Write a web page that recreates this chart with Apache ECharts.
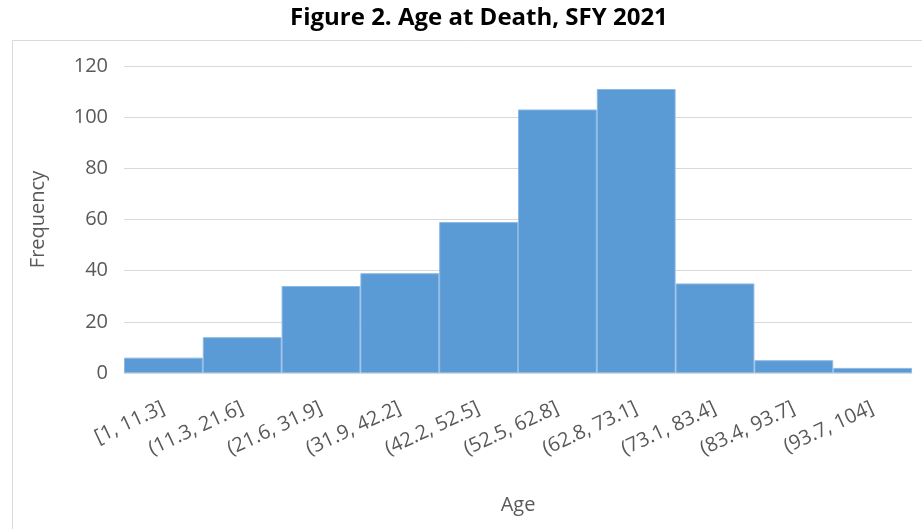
<!DOCTYPE html>
<html><head><meta charset="utf-8">
<script src="https://cdn.jsdelivr.net/npm/echarts@6/dist/echarts.min.js"></script>
<style>html,body{margin:0;padding:0;background:#fff}#c{width:922px;height:529px}</style>
</head><body><div id="c"></div>
<script>
const categories = ["[1, 11.3]","(11.3, 21.6]","(21.6, 31.9]","(31.9, 42.2]","(42.2, 52.5]","(52.5, 62.8]","(62.8, 73.1]","(73.1, 83.4]","(83.4, 93.7]","(93.7, 104]"];
const frequency = [6, 14, 34, 39, 59, 103, 111, 35, 5, 2];
const yTicks = {min: 0, max: 120, interval: 20};

const font = '"Open Sans", "Noto Sans", sans-serif';
const chart = echarts.init(document.getElementById('c'), null, {renderer: 'canvas'});
chart.setOption({
  animation: false,
  backgroundColor: '#fff',
  title: {
    text: 'Figure 2. Age at Death, SFY 2021',
    left: 285, top: 1,
    textStyle: {fontFamily: font, fontWeight: 'bold', fontSize: 24, color: '#000'}
  },
  graphic: [{
    type: 'rect', left: 10, top: 38,
    shape: {width: 930, height: 520},
    style: {fill: 'none', stroke: '#d9d9d9', lineWidth: 1}
  }],
  grid: {left: 124, right: 10, top: 66, bottom: 156},
  xAxis: {
    type: 'category', data: categories,
    name: 'Age', nameLocation: 'middle', nameGap: 122,
    nameTextStyle: {fontFamily: font, fontSize: 20, color: '#595959'},
    axisLine: {lineStyle: {color: '#d9d9d9', width: 1}},
    axisTick: {show: false},
    axisLabel: {rotate: 25, fontFamily: font, fontSize: 20, color: '#595959', margin: 34, interval: 0}
  },
  yAxis: {
    type: 'value', min: yTicks.min, max: yTicks.max, interval: yTicks.interval,
    name: 'Frequency', nameLocation: 'middle', nameGap: 76,
    nameTextStyle: {fontFamily: font, fontSize: 20, color: '#595959'},
    axisLine: {show: false}, axisTick: {show: false},
    axisLabel: {fontFamily: font, fontSize: 20, color: '#595959', margin: 16},
    splitLine: {lineStyle: {color: '#d9d9d9', width: 1}}
  },
  series: [{
    type: 'bar', data: frequency, barCategoryGap: '0%',
    itemStyle: {color: '#5b9bd5', borderColor: '#8ab8e6', borderWidth: 1}
  }]
});
</script></body></html>
